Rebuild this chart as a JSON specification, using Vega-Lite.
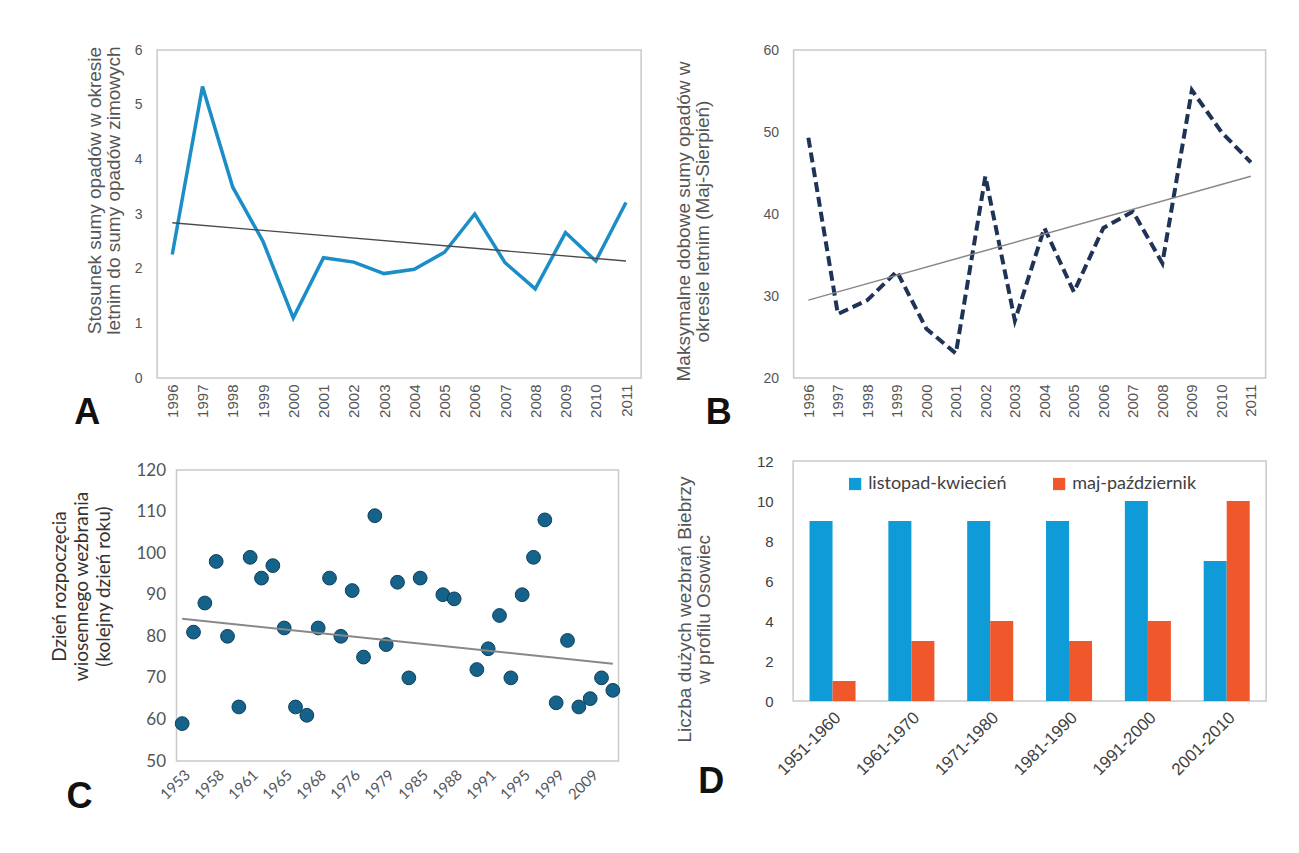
{
  "$schema": "https://vega.github.io/schema/vega-lite/v6.json",
  "background": "white",
  "padding": {"left": 49, "top": 42, "right": 5, "bottom": 5},
  "config": {
    "view": {"stroke": "#c9c9c9", "strokeWidth": 1.5},
    "axis": {"grid": false, "domain": false, "ticks": false, "labelFont": "Liberation Sans", "titleFont": "Liberation Sans", "titleFontWeight": "normal"},
    "title": {"font": "Liberation Sans", "fontWeight": "bold", "fontSize": 36, "color": "#111111", "orient": "bottom", "anchor": "start", "frame": "group", "offset": 0}
  },
  "datasets": {
    "a": [
      {"year": 1996, "ratio": 2.26}, {"year": 1997, "ratio": 5.33}, {"year": 1998, "ratio": 3.49}, {"year": 1999, "ratio": 2.5},
      {"year": 2000, "ratio": 1.1}, {"year": 2001, "ratio": 2.2}, {"year": 2002, "ratio": 2.12}, {"year": 2003, "ratio": 1.91},
      {"year": 2004, "ratio": 1.99}, {"year": 2005, "ratio": 2.3}, {"year": 2006, "ratio": 3.0}, {"year": 2007, "ratio": 2.11},
      {"year": 2008, "ratio": 1.63}, {"year": 2009, "ratio": 2.66}, {"year": 2010, "ratio": 2.14}, {"year": 2011, "ratio": 3.21}
    ],
    "aTrend": [{"year": 1996, "ratio": 2.84}, {"year": 2011, "ratio": 2.14}],
    "b": [
      {"year": 1996, "max": 49.3}, {"year": 1997, "max": 27.8}, {"year": 1998, "max": 29.5}, {"year": 1999, "max": 33.0},
      {"year": 2000, "max": 26.0}, {"year": 2001, "max": 23.0}, {"year": 2002, "max": 44.6}, {"year": 2003, "max": 27.0},
      {"year": 2004, "max": 38.3}, {"year": 2005, "max": 30.5}, {"year": 2006, "max": 38.3}, {"year": 2007, "max": 40.3},
      {"year": 2008, "max": 34.0}, {"year": 2009, "max": 55.1}, {"year": 2010, "max": 50.0}, {"year": 2011, "max": 46.3}
    ],
    "bTrend": [{"year": 1996, "max": 29.5}, {"year": 2011, "max": 44.6}],
    "c": [
      {"year": 1953, "day": 59}, {"year": 1955, "day": 81}, {"year": 1956, "day": 88}, {"year": 1958, "day": 98},
      {"year": 1959, "day": 80}, {"year": 1960, "day": 63}, {"year": 1961, "day": 99}, {"year": 1962, "day": 94},
      {"year": 1963, "day": 97}, {"year": 1965, "day": 82}, {"year": 1966, "day": 63}, {"year": 1967, "day": 61},
      {"year": 1968, "day": 82}, {"year": 1970, "day": 94}, {"year": 1974, "day": 80}, {"year": 1976, "day": 91},
      {"year": 1977, "day": 75}, {"year": 1978, "day": 109}, {"year": 1979, "day": 78}, {"year": 1980, "day": 93},
      {"year": 1982, "day": 70}, {"year": 1985, "day": 94}, {"year": 1987, "day": 90}, {"year": 1988, "day": 89},
      {"year": 1990, "day": 72}, {"year": 1991, "day": 77}, {"year": 1993, "day": 85}, {"year": 1994, "day": 70},
      {"year": 1995, "day": 90}, {"year": 1996, "day": 99}, {"year": 1997, "day": 108}, {"year": 1999, "day": 64},
      {"year": 2000, "day": 79}, {"year": 2006, "day": 63}, {"year": 2009, "day": 65}, {"year": 2010, "day": 70},
      {"year": 2011, "day": 67}
    ],
    "cTrend": [{"year": 1953, "day": 84.2}, {"year": 2011, "day": 73.4}],
    "d": [
      {"period": "1951-1960", "season": "listopad-kwiecień", "count": 9}, {"period": "1951-1960", "season": "maj-październik", "count": 1},
      {"period": "1961-1970", "season": "listopad-kwiecień", "count": 9}, {"period": "1961-1970", "season": "maj-październik", "count": 3},
      {"period": "1971-1980", "season": "listopad-kwiecień", "count": 9}, {"period": "1971-1980", "season": "maj-październik", "count": 4},
      {"period": "1981-1990", "season": "listopad-kwiecień", "count": 9}, {"period": "1981-1990", "season": "maj-październik", "count": 3},
      {"period": "1991-2000", "season": "listopad-kwiecień", "count": 10}, {"period": "1991-2000", "season": "maj-październik", "count": 4},
      {"period": "2001-2010", "season": "listopad-kwiecień", "count": 7}, {"period": "2001-2010", "season": "maj-październik", "count": 10}
    ]
  },
  "spacing": 31,
  "resolve": {"scale": {"color": "independent"}, "legend": {"color": "independent"}},
  "hconcat": [
    {
      "spacing": 27,
      "center": true,
      "vconcat": [
        {
          "width": 484, "height": 328,
          "title": {"text": "A", "orient": "bottom", "anchor": "start", "frame": "group", "dx": -83, "dy": -25},
          "layer": [
            {
              "data": {"name": "a"},
              "mark": {"type": "line", "color": "#1b8ec8", "strokeWidth": 3.5},
              "encoding": {
                "x": {"field": "year", "type": "ordinal", "scale": {"padding": 0.5},
                  "axis": {"labelAngle": -90, "labelFontSize": 15, "labelColor": "#555555", "labelPadding": 6, "title": null}},
                "y": {"field": "ratio", "type": "quantitative", "scale": {"domain": [0, 6], "nice": false},
                  "axis": {"values": [0, 1, 2, 3, 4, 5, 6], "format": "d", "labelFontSize": 14, "labelColor": "#555555", "labelPadding": 15,
                    "title": ["Stosunek sumy opadów w okresie", "letnim do sumy opadów zimowych"],
                    "titleFontSize": 19, "titleColor": "#555555", "titleX": -53, "titleY": 140, "titleLineHeight": 19}}
              }
            },
            {
              "data": {"name": "aTrend"},
              "mark": {"type": "line", "color": "#4a4a4a", "strokeWidth": 1.3},
              "encoding": {
                "x": {"field": "year", "type": "ordinal"},
                "y": {"field": "ratio", "type": "quantitative"}
              }
            }
          ]
        },
        {
          "width": 442, "height": 291,
          "title": {"text": "C", "orient": "bottom", "anchor": "start", "frame": "group", "dx": -110, "dy": -26},
          "layer": [
            {
              "data": {"name": "c"},
              "mark": {"type": "circle", "size": 190, "fill": "#15628a", "stroke": "#0d3f5a", "strokeWidth": 1, "opacity": 1},
              "encoding": {
                "x": {"field": "year", "type": "ordinal",
                  "scale": {"padding": 0.5, "domain": [1953, 1955, 1956, 1958, 1959, 1960, 1961, 1962, 1963, 1965, 1966, 1967, 1968, 1970, 1974, 1976, 1977, 1978, 1979, 1980, 1982, 1985, 1986, 1987, 1988, 1989, 1990, 1991, 1993, 1994, 1995, 1996, 1997, 1999, 2000, 2006, 2009, 2010, 2011]},
                  "axis": {"values": [1953, 1958, 1961, 1965, 1968, 1976, 1979, 1985, 1988, 1991, 1995, 1999, 2009],
                    "labelAngle": -45, "labelFont": "Lato", "labelFontSize": 15, "labelColor": "#555555", "labelPadding": 6, "title": null}},
                "y": {"field": "day", "type": "quantitative", "scale": {"domain": [50, 120], "nice": false},
                  "axis": {"values": [50, 60, 70, 80, 90, 100, 110, 120], "labelFont": "Lato", "labelFontSize": 17, "labelColor": "#555555", "labelPadding": 11,
                    "title": ["Dzień rozpoczęcia", "wiosennego wezbrania", "(kolejny dzień roku)"],
                    "titleFont": "Lato", "titleFontSize": 19, "titleColor": "#333333", "titleX": -107, "titleY": 116, "titleLineHeight": 22}}
              }
            },
            {
              "data": {"name": "cTrend"},
              "mark": {"type": "line", "color": "#888888", "strokeWidth": 2},
              "encoding": {
                "x": {"field": "year", "type": "ordinal"},
                "y": {"field": "day", "type": "quantitative"}
              }
            }
          ]
        }
      ]
    },
    {
      "spacing": 20,
      "center": true,
      "resolve": {"scale": {"color": "independent"}, "legend": {"color": "independent"}},
      "vconcat": [
        {
          "width": 472, "height": 328,
          "title": {"text": "B", "orient": "bottom", "anchor": "start", "frame": "group", "dx": -88, "dy": -25},
          "layer": [
            {
              "data": {"name": "b"},
              "mark": {"type": "line", "color": "#1f3357", "strokeWidth": 4, "strokeDash": [10, 5]},
              "encoding": {
                "x": {"field": "year", "type": "ordinal", "scale": {"padding": 0.5},
                  "axis": {"labelAngle": -90, "labelFontSize": 15, "labelColor": "#555555", "labelPadding": 6, "title": null}},
                "y": {"field": "max", "type": "quantitative", "scale": {"domain": [20, 60], "nice": false},
                  "axis": {"values": [20, 30, 40, 50, 60], "labelFontSize": 14, "labelColor": "#555555", "labelPadding": 15,
                    "title": ["Maksymalne dobowe sumy opadów w", "okresie letnim (Maj-Sierpień)"],
                    "titleFontSize": 19, "titleColor": "#555555", "titleX": -100, "titleY": 171, "titleLineHeight": 19}}
              }
            },
            {
              "data": {"name": "bTrend"},
              "mark": {"type": "line", "color": "#888888", "strokeWidth": 1.5},
              "encoding": {
                "x": {"field": "year", "type": "ordinal"},
                "y": {"field": "max", "type": "quantitative"}
              }
            }
          ]
        },
        {
          "width": 473, "height": 240,
          "title": {"text": "D", "orient": "bottom", "anchor": "start", "frame": "group", "dx": -95, "dy": -17},
          "data": {"name": "d"},
          "mark": {"type": "bar"},
          "encoding": {
            "x": {"field": "period", "type": "nominal", "scale": {"paddingInner": 0.416, "paddingOuter": 0.208},
              "axis": {"labelAngle": -45, "labelFontSize": 17, "labelColor": "#404040", "labelPadding": 8, "title": null}},
            "xOffset": {"field": "season", "type": "nominal"},
            "y": {"field": "count", "type": "quantitative", "scale": {"domain": [0, 12], "nice": false},
              "axis": {"values": [0, 2, 4, 6, 8, 10, 12], "labelFontSize": 15, "labelColor": "#404040", "labelPadding": 20,
                "title": ["Liczba dużych wezbrań Biebrzy", "w profilu Osowiec"],
                "titleFontSize": 19, "titleColor": "#555555", "titleX": -99, "titleY": 148, "titleLineHeight": 19}},
            "color": {"field": "season", "type": "nominal",
              "scale": {"domain": ["listopad-kwiecień", "maj-październik"], "range": ["#0e9bd8", "#f0582b"]},
              "legend": {"title": null, "orient": "none", "legendX": 53, "legendY": 14, "direction": "horizontal",
                "symbolType": "square", "symbolSize": 150, "symbolStrokeWidth": 0, "labelFont": "Lato", "labelFontSize": 18,
                "labelColor": "#404040", "columnPadding": 43, "padding": 0, "labelLimit": 300}}
          }
        }
      ]
    }
  ]
}
